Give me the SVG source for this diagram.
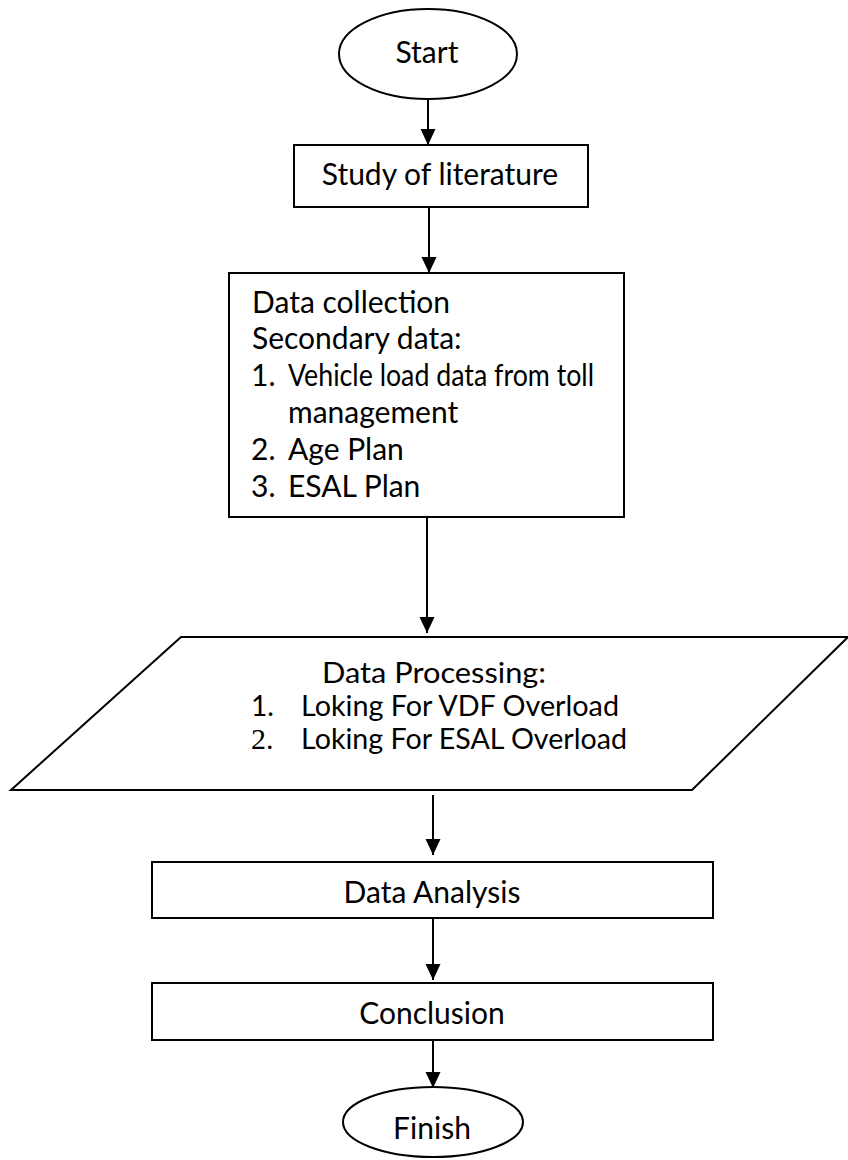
<svg xmlns="http://www.w3.org/2000/svg" width="848" height="1160" viewBox="0 0 848 1160">
<defs>
<style>
.s{fill:#fff;stroke:#000;stroke-width:2}
.t{font-family:Lato,"Open Sans",sans-serif;font-size:30px;fill:#000}
.p{font-size:28px}
.m{text-anchor:middle}
.c{stroke:#000;stroke-width:2;fill:none;marker-end:url(#ah)}
.sr{font-family:"Liberation Serif",serif;font-size:30px}
</style>
<marker id="ah" markerUnits="userSpaceOnUse" markerWidth="16" markerHeight="16" refX="16" refY="7.5" orient="auto">
<path d="M0,0 L16,7.5 L0,15 Z" fill="#000"/>
</marker>
</defs>
<rect width="848" height="1160" fill="#fff"/>
<g id="connectors">
<line class="c" x1="428" y1="99" x2="428" y2="145"/>
<line class="c" x1="429" y1="207" x2="429" y2="273"/>
<line class="c" x1="427" y1="517" x2="427" y2="633"/>
<line class="c" x1="433" y1="795" x2="433" y2="855"/>
<line class="c" x1="433" y1="918" x2="433" y2="980"/>
<line class="c" x1="433" y1="1040" x2="433" y2="1088"/>
</g>
<g id="start">
<ellipse class="s" cx="428" cy="54" rx="89" ry="45"/>
<text class="t m" x="427" y="63">Start</text>
</g>
<g id="study">
<rect class="s" x="294" y="145" width="294" height="62"/>
<text class="t m" x="440" y="185">Study of literature</text>
</g>
<g id="data-collection">
<rect class="s" x="229" y="273" width="395" height="244"/>
<text class="t" x="252" y="313">Data collection</text>
<text class="t" x="252" y="349">Secondary data:</text>
<text class="t" x="251" y="386">1.</text>
<text class="t" x="288" y="386" textLength="306" lengthAdjust="spacingAndGlyphs">Vehicle load data from toll</text>
<text class="t" x="288" y="423">management</text>
<text class="t" x="251" y="460">2.</text>
<text class="t" x="288" y="460">Age Plan</text>
<text class="t" x="251" y="497">3.</text>
<text class="t" x="288" y="497">ESAL Plan</text>
</g>
<g id="data-processing">
<polygon class="s" points="181,637 848,637 692,790 11,790"/>
<text class="t p m" x="434" y="683" textLength="224" lengthAdjust="spacingAndGlyphs">Data Processing:</text>
<text class="t p" x="251" y="716">1.</text>
<text class="t p" x="301" y="716" textLength="318" lengthAdjust="spacingAndGlyphs">Loking For VDF Overload</text>
<text class="t sr" x="251" y="749">2.</text>
<text class="t p" x="301" y="749" textLength="326" lengthAdjust="spacingAndGlyphs">Loking For ESAL Overload</text>
</g>
<g id="data-analysis">
<rect class="s" x="152" y="862" width="561" height="56"/>
<text class="t m" x="432" y="903">Data Analysis</text>
</g>
<g id="conclusion">
<rect class="s" x="152" y="983" width="561" height="57"/>
<text class="t m" x="432" y="1024">Conclusion</text>
</g>
<g id="finish">
<ellipse class="s" cx="433" cy="1122" rx="90" ry="35"/>
<text class="t m" x="432" y="1139">Finish</text>
</g>
</svg>
